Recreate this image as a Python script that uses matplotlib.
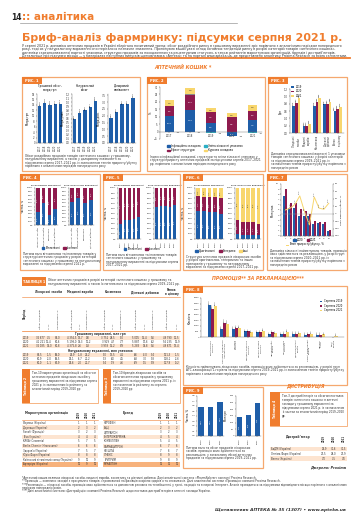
import textwrap
import numpy as np
import matplotlib
matplotlib.use('Agg')
import matplotlib.pyplot as plt
from matplotlib.patches import Rectangle, Patch
from matplotlib.lines import Line2D

plt.rcParams['font.family'] = ['Liberation Sans Narrow', 'DejaVu Sans']

W, H = 360, 530
ORANGE = '#f07d2e'
ORANGE_L = '#f5a86f'
PEACH = '#fde4d0'
BLUE = '#1f5ea8'
MAROON = '#8e1b4e'
YELLOW = '#f8d66d'
TEAL = '#2aaec4'
GREY = '#8a8a8a'
TXT = '#333333'

# ---- дані ----
years5 = ['2017', '2018', '2019', '2020', '2021']
years3 = ['2019', '2020', '2021']

# Рис.1
f1_money = [13.6, 14.8, 13.9, 14.2, 14.4]
f1_units = [0.58, 0.73, 0.80, 0.87, 1.03]
f1_usd = [1.85, 2.25, 2.85, 2.85, 3.30]

# Рис.2 (внесок складових у приріст, %)
f2_teal = [-0.3, -0.4, -0.8, -0.6, -0.7]
f2_blue = [10.5, 14.5, 5.5, -2.4, 7.5]
f2_maroon = [6.5, 10.0, 7.5, 9.5, 6.5]
f2_grey = [0.0, 1.1, 0.0, 0.0, 0.0]
f2_yellow = [4.0, 4.0, 3.0, 3.0, 4.0]

# Рис.3
f3_cats = ['Лікарські\nзасоби', 'Медичні\nвироби', 'Косметика', 'Дієтичні\nдобавки', 'Ринок\nв цілому']
f3_2019 = [0.75, 0.20, 0.75, 0.78, 0.60]
f3_2020 = [0.83, 0.20, 0.85, 0.80, 0.65]
f3_2021 = [0.96, 0.25, 0.95, 0.85, 0.72]

# Рис.4
f4_cats = ['Лікарські засоби', 'Медичні вироби', 'Косметика', 'Дієтичні добавки']
f4_money_dom = [35, 60, 27, 43]
f4_units_dom = [62, 73, 60, 68]

# Рис.5
f5_money_dom = [29, 38, 38, 39, 44]
f5_units_dom = [62, 65, 64, 63, 67]

# Рис.6
f6_money_a = [55, 54, 53, 52, 50]
f6_money_b = [29, 29, 29, 30, 30]
f6_units_a = [9, 8, 8, 8, 7]
f6_units_b = [29, 25, 25, 25, 22]

# Рис.7
f7_cats = ['1', '2', '3', '4', '5', '6', '7', '8', '9', '10']
f7_2020 = [7.7, 5.4, 5.4, 3.8, 3.8, 3.8, 2.3, 2.5, 2.3, 1.0]
f7_2021 = [9.0, 6.3, 6.3, 5.2, 4.8, 4.2, 2.9, 2.7, 2.6, 1.2]
f7_growth = [10, 15, 25, 48, 5, -30, 45, 15, 12, 28]

# Рис.8
f8_cats = ['Респіраторна\nсистема', 'Система травлення\nі метаболізм', 'Нервова\nсистема',
           'Серцево-судинна\nсистема', 'Опорно-рухова\nсистема', 'Протимікробні\nзасоби',
           'Сечостатева\nсистема', 'Дерматологічні\nзасоби', 'Кров і кровотворні\nоргани',
           'Органи\nчуття', 'Різні\nзасоби']
f8_2019 = [2900, 730, 730, 500, 430, 250, 250, 270, 200, 200, 0]
f8_2020 = [2550, 1300, 800, 520, 430, 430, 300, 270, 250, 200, 0]
f8_2021 = [2800, 1200, 850, 430, 550, 320, 480, 320, 300, 250, 100]

# Рис.9
f9_left = [0.58, 0.59, 0.69]
f9_right = [140, 160, 245]

# Таблиця 1
t1_groups = ['Лікарські засоби', 'Медичні вироби', 'Косметика', 'Дієтичні добавки', 'Ринок\nв цілому']
t1_money = [
    ['36 677', '7,5', '82,0', '4 356,5', '13,7', '9,0', '3 752', '28,5', '5,0', '5 005', '15,4', '5,6', '49 790', '11,5'],
    ['41 221', '12,4', '80,6', '5 198,0', '19,3', '10,2', '3 929', '4,7', '7,7', '5 887', '17,6', '6,2', '56 235', '12,9'],
    ['36 035', '14,0', '80,8', '4 375,8', '2,6', '9,8', '3 978', '15,2', '8,9', '5 283', '19,8', '5,6', '49 671', '13,4'],
]
t1_units = [
    ['82,5', '-1,5', '68,0', '26,9', '-1,8', '22,2', '5,0', '13,5', '4,1', '6,6', '-4,0', '5,4', '121,3', '-1,5'],
    ['80,9', '-2,0', '68,5', '25,1', '-6,7', '21,2', '5,3', '6,0', '4,5', '6,8', '3,0', '5,8', '118,1', '-2,6'],
    ['80,0', '-1,1', '67,9', '25,6', '2,0', '21,7', '5,4', '1,9', '4,6', '6,9', '1,5', '5,9', '117,9', '-0,2'],
]

# Таблиці 2, 3
t4_orgs = ['Фармак (Україна)', 'Дарниця (Україна)', 'Sanofi (Франція)', 'Teva (Ізраїль)',
           'KRKA (Словенія)', 'Berlin-Chemie (Німеччина)', "Здоров'я (Україна)",
           'Юрія-Фарм (Україна)', 'Київський вітамінний завод (Україна)', 'Артеріум (Україна)']
t4_ranks = [[1, 1, 1], [2, 3, 2], [3, 2, 3], [4, 4, 4], [5, 7, 5],
            [6, 6, 6], [7, 5, 7], [8, 8, 8], [9, 10, 9], [10, 9, 10]]
t5_brands = ['НУРОФЄН', 'АЦЦ', 'ЦИТРАМОН', 'ЕНТЕРОЖЕРМІНА', 'КОМБІЛІПЕН',
             'ФАРМАЦИТРОН', 'НО-ШПА', 'ЛІНЕКС', 'ТРИГРИМ', 'МУКАЛТИН']
t5_ranks = [[1, 1, 1], [2, 3, 2], [3, 2, 3], [4, 5, 4], [5, 4, 5],
            [6, 7, 6], [7, 6, 7], [8, 9, 8], [9, 8, 9], [12, 11, 10]]

# Дистрибуція
t7_dist = ['БаДМ (Україна)', 'Оптіма-Фарм (Україна)', 'Вента (Україна)']
t7_vals = [['29,9', '30,6', '30,5'], ['27,5', '28,0', '27,9'], ['7,0', '7,5', '7,6']]

fig = plt.figure(figsize=(W / 100, H / 100), dpi=100)
r = fig.canvas.get_renderer()


def px_axes(x0, y0, x1, y1):
    return fig.add_axes([x0 / W, 1 - y1 / H, (x1 - x0) / W, (y1 - y0) / H])


def txt(x, y, s, fs=2.2, **kw):
    kw.setdefault('color', TXT)
    kw.setdefault('va', 'top')
    return fig.text(x / W, 1 - y / H, s, fontsize=fs, **kw)


def para(x, y, w, s, fs=2.2, lh=3.3, **kw):
    # ширину символу міряємо, щоб рядки не вилазили за колонку
    probe = txt(0, 0, s, fs, **kw)
    cw = probe.get_window_extent(r).width / len(s)
    probe.remove()
    n = max(10, int(w / cw))
    lines = textwrap.wrap(s, n)
    for i, line in enumerate(lines):
        txt(x, y + i * lh, line, fs, **kw)
    return y + len(lines) * lh


def hline(x0, x1, y, color=ORANGE, lw=0.6):
    fig.add_artist(Line2D([x0 / W, x1 / W], [1 - y / H, 1 - y / H],
                          transform=fig.transFigure, color=color, lw=lw))


def rect(x0, y0, x1, y1, fc='none', ec='none', lw=0.6, z=1):
    fig.add_artist(Rectangle((x0 / W, 1 - y1 / H), (x1 - x0) / W, (y1 - y0) / H,
                             transform=fig.transFigure, fc=fc, ec=ec, lw=lw, zorder=z))


def frame(x0, y0, x1, y1, label):
    rect(x0, y0, x1, y1, ec=ORANGE_L, lw=0.9)
    rect(x0, y0, x0 + 20, y0 + 7, fc=ORANGE)
    txt(x0 + 3, y0 + 3.7, label, 2.6, color='white', va='center', fontweight='bold')


def style(ax, fs=1.8):
    for s in ('top', 'right'):
        ax.spines[s].set_visible(False)
    for s in ('left', 'bottom'):
        ax.spines[s].set_linewidth(0.3)
        ax.spines[s].set_color('#666666')
    ax.tick_params(labelsize=fs, length=1, width=0.3, pad=0.5, colors='#333333')
    ax.set_facecolor('none')


def legend(items, x, y, ncol, fs=1.9):
    handles = [Patch(color=c) if kind == 'p' else Line2D([], [], color=c, lw=0.7)
               for c, kind, _ in items]
    fig.legend(handles, [l for _, _, l in items], loc='center', bbox_to_anchor=(x / W, 1 - y / H),
               ncol=ncol, fontsize=fs, frameon=False, handlelength=1.0, handleheight=0.7,
               columnspacing=1.2, handletextpad=0.4, borderpad=0, labelspacing=0.3)


def note_box(x0, y0, x1, y1, label, body, strip=8):
    rect(x0, y0, x1, y1, ec=ORANGE_L, lw=0.6)
    rect(x0, y0, x0 + strip, y1, fc=ORANGE)
    txt(x0 + strip / 2, (y0 + y1) / 2, label, 2.3, color='white', rotation=90,
        ha='center', va='center', fontweight='bold')
    para(x0 + strip + 2, y0 + 2, x1 - x0 - strip - 4, body, fs=2.0, lh=4.0)


# ---- шапка ----
txt(11, 20, '14', 5.5, fontweight='bold', va='baseline', color='#222222')
txt(22, 20, ':: аналітика', 7.5, fontweight='bold', va='baseline', color=ORANGE)
hline(20, 237, 23, color='#999999', lw=0.5)

title = txt(22, 41, 'Бриф-аналіз фармринку: підсумки серпня 2021 р.', 14,
            color=ORANGE, fontweight='bold', va='baseline')
title.set_fontsize(14 * 323 / title.get_window_extent(r).width)

intro = ('У серпні 2021 р. динаміка аптечних продажів в Україні зберігала позитивний тренд: обсяг '
         'роздрібного ринку в грошовому вираженні зріс порівняно з аналогічним періодом попереднього року, '
         'тоді як у натуральному вираженні спостерігалося незначне зниження. Пропонуємо вашій увазі огляд '
         'основних тенденцій ринку в розрізі категорій товарів «аптечного кошика», динаміки '
         'середньозваженої вартості упаковки, структури продажів за походженням та рецептурним статусом, '
         'а також рейтингів маркетуючих організацій, брендів і дистриб’юторів. Детальніше про підсумки '
         'місяця — у матеріалах наступних випусків щотижневика «Аптека» та на порталі www.apteka.ua, '
         'де представлено аналітику Proxima Research за всіма сегментами.')
para(22, 44, 326, intro, fs=2.3, lh=3.3)
hline(20, 350, 58, lw=1.3)

txt(183, 67, 'АПТЕЧНИЙ КОШИК *', 3.4, color=ORANGE, fontweight='bold', style='italic',
    ha='center', va='center')

# ---- Рис.1 ----
frame(22, 77, 140, 171, 'РИС. 1')
f1 = [(37, 63, f1_money, 'Грошовий обсяг,\nмлрд грн', 'Млрд грн', 18, 2, '{:.1f}'),
      (72, 98, f1_units, 'Натуральний\nобсяг', 'Млрд упак.', 1.2, 0.1, '{:.2f}'),
      (108, 136, f1_usd, 'Доларовий\nеквівалент', 'Млрд дол.', 3.6, 0.5, '{:.2f}')]
for x0, x1, vals, ttl, yl, lim, step, fmt in f1:
    ax = px_axes(x0, 94, x1, 143)
    b = ax.bar(years5, vals, width=0.6, color=BLUE)
    ax.bar_label(b, labels=[fmt.format(v) for v in vals], rotation=90, fontsize=1.5, padding=0.5)
    ax.set_ylim(0, lim)
    ax.set_yticks(np.arange(0, lim + 1e-9, step))
    ax.set_title(ttl, fontsize=2.0, pad=2)
    ax.set_ylabel(yl, fontsize=1.9, labelpad=1)
    ax.tick_params(axis='x', rotation=90)
    style(ax)
para(25, 154, 112, 'Обсяг роздрібних продажів товарів «аптечного кошика» у грошовому, натуральному '
     'вираженні, а також у доларовому еквіваленті за підсумками серпня 2017–2021 рр. із зазначенням '
     'темпів приросту/убутку порівняно з аналогічним періодом попереднього року', fs=2.1, lh=3.4)

# ---- Рис.2 ----
frame(147, 77, 265, 171, 'РИС. 2')
ax = px_axes(160, 87, 262, 139)
x = np.arange(len(years5))
pos = np.zeros(len(years5))
neg = np.zeros(len(years5))
for vals, col in [(f2_teal, TEAL), (f2_blue, BLUE), (f2_maroon, MAROON), (f2_grey, GREY), (f2_yellow, YELLOW)]:
    v = np.array(vals)
    bars = ax.bar(x, v, bottom=np.where(v >= 0, pos, neg), width=0.45, color=col)
    ax.bar_label(bars, labels=[f'{a:.1f}' if abs(a) >= 2 else '' for a in v],
                 label_type='center', fontsize=1.6, color='white' if col != YELLOW else TXT)
    pos += np.clip(v, 0, None)
    neg += np.clip(v, None, 0)
for xi, t, ng in zip(x, f2_teal, f2_blue):
    ax.text(xi + 0.32, t if ng >= 0 else t + ng, f'{t:.1f}', fontsize=1.5, va='top', color=TXT)
ax.set_ylim(-5, 30)
ax.set_yticks(range(-5, 31, 5))
ax.set_xticks(x, years5)
ax.spines['bottom'].set_position(('data', 0))
ax.set_ylabel('%', fontsize=1.9, labelpad=1)
style(ax)
legend([(BLUE, 'p', 'Інфляційна складова'), (MAROON, 'p', 'Ефект структури'),
        (TEAL, 'p', 'Зміна кількості упаковок'), (YELLOW, 'p', 'Курсова складова')], 205, 148, 2)
para(150, 155, 112, 'Індекси інфляційної складової, структури та зміни кількості упаковок у '
     'структурі приросту аптечних продажів за підсумками серпня 2017–2021 рр. порівняно з '
     'аналогічним періодом попереднього року', fs=2.1, lh=3.4)

# ---- Рис.3 ----
frame(268, 77, 347, 171, 'РИС. 3')
ax = px_axes(290, 89, 344, 133)
x = np.arange(len(f3_cats))
for off, vals, col, lab in [(-0.26, f3_2019, BLUE, '2019'), (0, f3_2020, MAROON, '2020'),
                            (0.26, f3_2021, YELLOW, '2021')]:
    b = ax.bar(x + off, vals, width=0.26, color=col, label=lab)
    ax.bar_label(b, labels=[f'{v:.2f}' for v in vals], rotation=90, fontsize=1.4, padding=0.5)
ax.set_xticks(x, f3_cats, rotation=90)
ax.set_ylim(0, 1.2)
ax.set_yticks(np.arange(0, 1.21, 0.2))
ax.set_ylabel('Грн', fontsize=1.9, labelpad=1)
ax.legend(fontsize=1.8, frameon=False, loc='upper left', bbox_to_anchor=(0, 1.12),
          handlelength=0.9, handleheight=0.6, labelspacing=0.2, borderpad=0)
style(ax)
para(271, 152, 75, 'Динаміка середньозваженої вартості 1 упаковки товарів «аптечного кошика» '
     'у розрізі категорій за підсумками серпня 2019–2021 рр. із зазначенням темпів '
     'приросту/убутку порівняно з попереднім роком', fs=2.1, lh=3.4)

# ---- Рис.4 ----
frame(20, 174, 100, 270, 'РИС. 4')
for x0, x1, dom, ttl in [(35, 58, f4_money_dom, 'В грошовому вираженні'),
                         (69, 94, f4_units_dom, 'В натуральному вираженні')]:
    ax = px_axes(x0, 188, x1, 225)
    d = np.array(dom)
    b1 = ax.bar(f4_cats, d, width=0.6, color=BLUE)
    b2 = ax.bar(f4_cats, 100 - d, bottom=d, width=0.6, color=MAROON)
    ax.bar_label(b1, labels=[f'{v}%' for v in d], label_type='center', rotation=90, fontsize=1.4, color='white')
    ax.bar_label(b2, labels=[f'{v}%' for v in 100 - d], label_type='center', rotation=90, fontsize=1.4, color='white')
    ax.set_ylim(0, 100)
    ax.set_yticks(range(0, 101, 10), [f'{v}%' for v in range(0, 101, 10)])
    ax.set_title(ttl, fontsize=1.7, pad=1.5)
    ax.tick_params(axis='x', rotation=90)
    style(ax, 1.6)
    if x0 == 35:
        ax.set_ylabel('Частка, %', fontsize=1.8, labelpad=1)
legend([(BLUE, 'p', 'Вітчизняні'), (MAROON, 'p', 'Іноземні')], 60, 248, 2)
para(23, 252, 76, 'Питома вага вітчизняних та іноземних товарів у структурі аптечних продажів у '
     'розрізі категорій «аптечного кошика» у грошовому та натуральному вираженні за підсумками '
     'серпня 2021 р.', fs=2.1, lh=3.4)

# ---- Рис.5 ----
frame(103, 174, 180, 270, 'РИС. 5')
for x0, x1, dom, ttl in [(118, 141, f5_money_dom, 'В грошовому вираженні'),
                         (154, 177, f5_units_dom, 'В натуральному вираженні')]:
    ax = px_axes(x0, 188, x1, 239)
    d = np.array(dom)
    b1 = ax.bar(years5, d, width=0.65, color=BLUE)
    b2 = ax.bar(years5, 100 - d, bottom=d, width=0.65, color=MAROON)
    ax.bar_label(b1, labels=[f'{v}%' for v in d], label_type='center', rotation=90, fontsize=1.4, color='white')
    ax.bar_label(b2, labels=[f'{v}%' for v in 100 - d], label_type='center', rotation=90, fontsize=1.4, color='white')
    ax.set_ylim(0, 100)
    ax.set_yticks(range(0, 101, 10), [f'{v}%' for v in range(0, 101, 10)])
    ax.set_title(ttl, fontsize=1.7, pad=1.5)
    ax.tick_params(axis='x', rotation=90)
    style(ax, 1.6)
    if x0 == 118:
        ax.set_ylabel('Частка, %', fontsize=1.8, labelpad=1)
legend([(BLUE, 'p', 'Вітчизняні'), (MAROON, 'p', 'Іноземні')], 142, 249, 2)
para(106, 253, 73, 'Питома вага вітчизняних та іноземних товарів «аптечного кошика» у грошовому та '
     'натуральному вираженні за підсумками серпня 2017–2021 рр.', fs=2.1, lh=3.4)

# ---- Рис.6 ----
frame(183, 174, 263, 270, 'РИС. 6')
for x0, x1, a, bb, ttl in [(195, 224, f6_money_a, f6_money_b, 'В грошовому вираженні'),
                           (235, 261, f6_units_a, f6_units_b, 'В натуральному вираженні')]:
    ax = px_axes(x0, 188, x1, 239)
    a = np.array(a)
    bb = np.array(bb)
    c = 100 - a - bb
    s1 = ax.bar(years5, a, width=0.65, color=BLUE)
    s2 = ax.bar(years5, bb, bottom=a, width=0.65, color=MAROON)
    s3 = ax.bar(years5, c, bottom=a + bb, width=0.65, color=YELLOW)
    for s, vals, col in [(s1, a, 'white'), (s2, bb, 'white'), (s3, c, TXT)]:
        ax.bar_label(s, labels=[f'{v}%' if v >= 12 else '' for v in vals], label_type='center',
                     rotation=90, fontsize=1.4, color=col)
    ax.set_ylim(0, 100)
    ax.set_yticks(range(0, 101, 10), [f'{v}%' for v in range(0, 101, 10)])
    ax.set_title(ttl, fontsize=1.7, pad=1.5)
    ax.tick_params(axis='x', rotation=90)
    style(ax, 1.6)
    if x0 == 195:
        ax.set_ylabel('Частка, %', fontsize=1.8, labelpad=1)
legend([(BLUE, 'p', 'Оригінальні'), (MAROON, 'p', 'Генерики'), (YELLOW, 'p', 'Інші')], 222, 251, 3)
para(186, 255, 76, 'Структура аптечних продажів лікарських засобів у розрізі оригінальних, '
     'генеричних та інших препаратів у грошовому та натуральному вираженні за підсумками серпня '
     '2017–2021 рр.', fs=2.1, lh=3.4)

# ---- Рис.7 ----
frame(267, 174, 347, 270, 'РИС. 7')
ax = px_axes(281, 184, 333, 236)
x = np.arange(len(f7_cats))
ax.bar(x - 0.2, f7_2020, width=0.4, color=BLUE)
ax.bar(x + 0.2, f7_2021, width=0.4, color=MAROON)
ax.set_xticks(x, f7_cats)
ax.set_ylim(0, 10)
ax.set_yticks(range(0, 11))
ax.set_ylabel('Млн упак.', fontsize=1.8, labelpad=1)
style(ax, 1.6)
ax2 = ax.twinx()
ax2.plot(x, f7_growth, color=YELLOW, lw=0.7)
for xi, g in zip(x, f7_growth):
    ax2.text(xi, g + 4, f'{g:.1f}', fontsize=1.4, rotation=90, ha='center', va='bottom', color=TXT)
ax2.axhline(0, color='#999999', lw=0.3)
ax2.set_ylim(-60, 80)
ax2.set_yticks(range(-60, 81, 20))
ax2.set_ylabel('Темп приросту/убутку, %', fontsize=1.6, labelpad=1)
for s in ('top', 'left', 'bottom'):
    ax2.spines[s].set_visible(False)
ax2.spines['right'].set_linewidth(0.3)
ax2.spines['right'].set_color('#666666')
ax2.tick_params(labelsize=1.6, length=1, width=0.3, pad=0.5, colors='#333333')
legend([(BLUE, 'p', '2020'), (MAROON, 'p', '2021')], 305, 240, 2)
legend([(YELLOW, 'l', 'Темп приросту/убутку, %')], 305, 244.5, 1)
para(270, 249, 76, 'Динаміка кількості найменувань товарів, промоція яких здійснюється за '
     'рекламацією, у розрізі груп за підсумками серпня 2020–2021 рр. із зазначенням темпів '
     'приросту/убутку порівняно з попереднім роком', fs=2.1, lh=3.4)

txt(258, 278, 'ПРОМОЦІЯ** ЗА РЕКЛАМАЦІЄЮ***', 3.3, color=ORANGE, fontweight='bold',
    style='italic', ha='center', va='center')

# ---- Таблиця 1 ----
rect(22, 277, 46, 286, fc=ORANGE)
txt(34, 281.5, 'ТАБЛИЦЯ 1', 2.4, color='white', fontweight='bold', ha='center', va='center')
para(48, 278, 131, 'Обсяг аптечних продажів в розрізі категорій «аптечного кошика» у грошовому та '
     'натуральному вираженні, а також їх питома вага за підсумками серпня 2019–2021 рр.', fs=2.1, lh=3.6)

cols = [40, 49, 58, 72, 80, 88, 105, 113, 122, 136, 145, 153, 167, 177]
gcent = [49, 80, 113, 145, 172]
for gx, g in zip(gcent, t1_groups):
    txt(gx, 292, g, 2.0, ha='center', va='center', fontweight='bold')
hline(22, 180, 296.5, lw=0.4)
txt(25, 313, 'Період', 2.0, rotation=90, ha='center', va='center', fontweight='bold')
subs = ['Обсяг продажів', 'Δ, %', 'Питома вага, %']
for i, cx in enumerate(cols):
    txt(cx, 329, subs[i % 3], 1.7, rotation=90, ha='center', va='bottom')
hline(22, 180, 331, lw=0.5)


def t1_section(y, head, rows):
    txt(100, y, head, 2.0, ha='center', va='center', fontweight='bold')
    for i, (yr, row) in enumerate(zip(years3, rows)):
        yy = y + 4 + i * 4
        if i % 2 == 0:
            rect(22, yy - 2, 180, yy + 2, fc=PEACH, z=0.5)
        txt(23, yy, yr, 1.8, va='center')
        for cx, v in zip(cols, row):
            txt(cx, yy, v, 1.8, ha='center', va='center')


t1_section(334, 'Грошовому вираженні, млн грн', t1_money)
t1_section(351, 'Натуральному вираженні, млн упаковок', t1_units)

note_box(22, 369, 98, 403, 'Таблиця 2',
         'Топ-10 маркетуючих організацій за обсягом аптечних продажів лікарських засобів у '
         'грошовому вираженні за підсумками серпня 2021 р. із зазначенням їх рейтингу за '
         'аналогічний період 2019–2020 рр.')
note_box(103, 369, 180, 403, 'Таблиця 3',
         'Топ-10 брендів лікарських засобів за обсягом аптечних продажів у грошовому '
         'вираженні за підсумками серпня 2021 р. із зазначенням їх рейтингу за серпень 2019–2020 рр.')


def rank_table(x0, x1, head, names, ranks, cxs):
    txt((x0 + cxs[0]) / 2 - 4, 413, head, 2.2, ha='center', va='center', fontweight='bold')
    for cx, yr in zip(cxs, years3):
        txt(cx, 418, yr, 1.8, rotation=90, ha='center', va='bottom', fontweight='bold')
    hline(x0, x1, 420, lw=0.4)
    for i, (nm, rk) in enumerate(zip(names, ranks)):
        yy = 423 + i * 4.6
        if i == len(names) - 1:
            rect(x0, yy - 2.3, x1, yy + 2.3, fc='#f7b27c', z=0.5)
        elif i % 2 == 1:
            rect(x0, yy - 2.3, x1, yy + 2.3, fc=PEACH, z=0.5)
        txt(x0 + 1, yy, nm, 1.8, va='center')
        for cx, v in zip(cxs, rk):
            txt(cx, yy, str(v), 1.8, ha='center', va='center')


rank_table(22, 98, 'Маркетуюча організація', t4_orgs, t4_ranks, [79, 87, 95])
rank_table(103, 180, 'Бренд', t5_brands, t5_ranks, [161, 169, 177])

# ---- Рис.8 ----
frame(183, 286, 347, 385, 'РИС. 8')
ax = px_axes(201, 298, 344, 337)
x = np.arange(len(f8_cats))
for off, vals, col, lab in [(-0.25, f8_2019, BLUE, 'Серпень 2019'), (0, f8_2020, MAROON, 'Серпень 2020'),
                            (0.25, f8_2021, YELLOW, 'Серпень 2021')]:
    b = ax.bar(x + off, vals, width=0.25, color=col, label=lab)
    ax.bar_label(b, labels=[f'{v}' if v else '' for v in vals], rotation=90, fontsize=1.3, padding=0.5)
ax.set_xticks(x, f8_cats, rotation=90)
ax.set_ylim(0, 3500)
ax.set_yticks(range(0, 3501, 500))
ax.set_ylabel('Кількість', fontsize=1.8, labelpad=1)
ax.legend(fontsize=1.8, frameon=False, loc='upper right', handlelength=0.9, handleheight=0.6,
          labelspacing=0.2, borderpad=0)
style(ax, 1.6)
para(186, 365, 159, 'Кількість найменувань лікарських засобів, промоція яких здійснюється за '
     'рекламацією, у розрізі груп АТС-класифікації 1-го рівня за підсумками серпня 2019–2021 рр. '
     'із зазначенням темпів приросту/убутку порівняно з аналогічним періодом попереднього року',
     fs=2.1, lh=3.4)

# ---- Рис.9 ----
frame(183, 387, 263, 468, 'РИС. 9')
for x0, x1, vals, lim, step, yl, fmt in [(197, 224, f9_left, 0.8, 0.1, 'Частка, %', '{:.2f}'),
                                          (236, 261, f9_right, 300, 50, 'Млн грн', '{:.0f}')]:
    ax = px_axes(x0, 396, x1, 436)
    b = ax.bar(years3, vals, width=0.55, color=BLUE)
    ax.bar_label(b, labels=[fmt.format(v) for v in vals], label_type='center', rotation=90,
                 fontsize=1.5, color='white')
    ax.set_ylim(0, lim)
    ax.set_yticks(np.arange(0, lim + 1e-9, step))
    ax.set_ylabel(yl, fontsize=1.8, labelpad=1)
    ax.tick_params(axis='x', rotation=90)
    style(ax, 1.6)
para(186, 446, 75, 'Питома вага та обсяг продажів лікарських засобів, промоція яких здійснюється '
     'за рекламацією, у загальному обсязі аптечних продажів за підсумками серпня 2019–2021 рр.',
     fs=2.1, lh=3.4)

# ---- Дистрибуція ----
txt(305, 386, 'ДИСТРИБУЦІЯ', 3.3, color=ORANGE, fontweight='bold', style='italic',
    ha='center', va='center')
note_box(270, 392, 347, 426, 'Таблиця 4',
         'Топ-3 дистриб’юторів за обсягом поставок товарів «аптечного кошика» в аптечні '
         'заклади у грошовому вираженні за підсумками серпня 2021 р. із зазначенням їх частки '
         'за аналогічний період 2019–2020 рр.', strip=10)
txt(298, 437, 'Дистриб’ютор', 2.2, ha='center', va='center', fontweight='bold')
for cx, yr in zip([324, 334, 344], years3):
    txt(cx, 442, yr, 1.8, rotation=90, ha='center', va='bottom', fontweight='bold')
for i, (nm, vals) in enumerate(zip(t7_dist, t7_vals)):
    yy = 449 + i * 4.8
    if i % 2 == 0:
        rect(270, yy - 2.4, 347, yy + 2.4, fc=PEACH, z=0.5)
    txt(271, yy, nm, 1.8, va='center')
    for cx, v in zip([324, 334, 344], vals):
        txt(cx, yy, v, 1.8, ha='center', va='center')
txt(346, 468, 'Джерело: Proxima', 2.4, ha='right', va='center', fontweight='bold', style='italic')

# ---- виноски ----
notes = [
    '*Аптечний кошик включає лікарські засоби, медичні вироби, косметику та дієтичні добавки. Дані '
    'аналітичної системи «PharmXplorer» компанії Proxima Research.',
    '**Промоція — комплекс заходів з просування товарів, спрямований на фахівців охорони здоров’я та '
    'споживачів. Дані аналітичної системи «Промоція» компанії Proxima Research.',
    '***Рекламація — лікарські засоби, промоція яких здійснюється за допомогою реклами на телебаченні, '
    'у пресі, на радіо та в мережі Інтернет. Аналіз проводиться за підсумками відповідного місяця '
    'порівняно з аналогічним періодом попередніх років.',
    '****Дані аналітичної системи «Дистрибуція» компанії Proxima Research щодо поставок дистриб’юторів '
    'в аптечні заклади України.',
]
yy = 476
for n in notes:
    yy = para(22, yy, 325, n, fs=2.0, lh=3.3)

txt(346, 510, 'Щотижневик АПТЕКА № 35 (1307) • www.apteka.ua', 3.2, ha='right', va='center',
    fontweight='bold', style='italic')

fig.savefig('out.png', dpi=100)
